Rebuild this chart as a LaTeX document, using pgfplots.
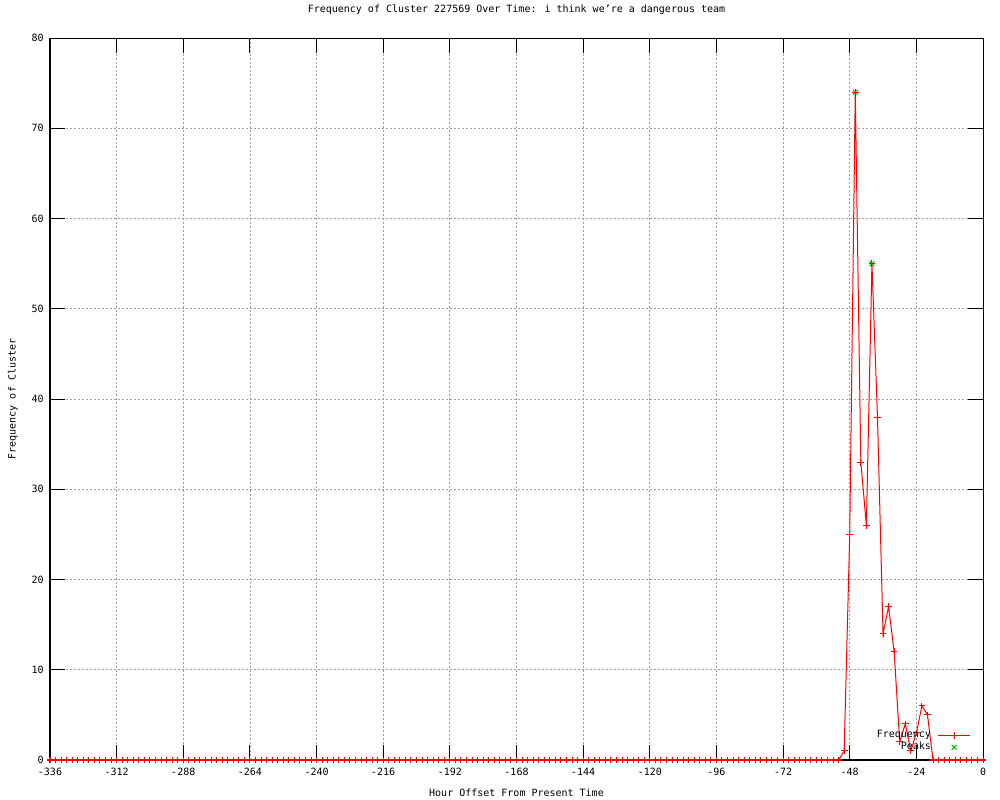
\documentclass[border=0pt]{standalone}
\usepackage{pgfplots}
\pgfplotsset{compat=1.18}
\usepackage{fontspec}
\setmainfont{DejaVu Sans Mono}
\definecolor{gpgreen}{RGB}{0,192,0}
\definecolor{gpgrid}{RGB}{160,160,160}
\begin{document}
\begin{tikzpicture}
\begin{axis}[
  at={(0,0)}, anchor=south west,
  scale only axis, width=699.75pt, height=541.5pt,
  xmin=-336, xmax=0, ymin=0, ymax=80,
  font=\fontsize{7.5}{9}\selectfont,
  axis line style={black, line width=0.75pt},
  every tick/.style={black, line width=0.75pt},
  tick align=inside, major tick length=11.25pt,
  xtick={-336,-312,-288,-264,-240,-216,-192,-168,-144,-120,-96,-72,-48,-24,0},
  xticklabels={-336,-312,-288,-264,-240,-216,-192,-168,-144,-120,-96,-72,-48,-24,0},
  ytick={0,10,20,30,40,50,60,70,80},
  yticklabels={0,10,20,30,40,50,60,70,80},
  xticklabel style={inner sep=0pt, yshift=-6pt},
  yticklabel style={inner sep=0pt, xshift=-4.5pt},
  grid=major,
  major grid style={gpgrid, line width=0.6pt, dash pattern=on 1.5pt off 1.5pt},
  title={Frequency of Cluster 227569 Over Time: i think we’re a dangerous team},
  title style={at={(axis description cs:0.5,1.0277)}, anchor=center, inner sep=0pt},
  xlabel={Hour Offset From Present Time},
  xlabel style={at={(axis description cs:0.5,-0.0457)}, anchor=center, inner sep=0pt},
  ylabel={Frequency of Cluster},
  ylabel style={at={(axis description cs:-0.0397,0.5)}, anchor=center, inner sep=0pt},
  clip=false,
  legend cell align=right,
  legend plot pos=right,
  legend style={draw=none, fill=none, at={(axis description cs:0.987,0.009)}, anchor=south east,
    inner sep=0pt, row sep=0pt, column sep=5pt,
    nodes={inner sep=0pt, text height=6.5pt, text depth=2.5pt}},
  legend image code/.code={\draw[mark repeat=2,mark phase=2] plot coordinates {(0pt,0pt) (12pt,0pt) (24pt,0pt)};},
]
\addplot[red, line width=0.75pt, mark=+, mark size=2.5pt, mark options={line width=0.75pt}] coordinates {
(-336,0) (-334,0) (-332,0) (-330,0) (-328,0) (-326,0) (-324,0) (-322,0) (-320,0) (-318,0)
(-316,0) (-314,0) (-312,0) (-310,0) (-308,0) (-306,0) (-304,0) (-302,0) (-300,0) (-298,0)
(-296,0) (-294,0) (-292,0) (-290,0) (-288,0) (-286,0) (-284,0) (-282,0) (-280,0) (-278,0)
(-276,0) (-274,0) (-272,0) (-270,0) (-268,0) (-266,0) (-264,0) (-262,0) (-260,0) (-258,0)
(-256,0) (-254,0) (-252,0) (-250,0) (-248,0) (-246,0) (-244,0) (-242,0) (-240,0) (-238,0)
(-236,0) (-234,0) (-232,0) (-230,0) (-228,0) (-226,0) (-224,0) (-222,0) (-220,0) (-218,0)
(-216,0) (-214,0) (-212,0) (-210,0) (-208,0) (-206,0) (-204,0) (-202,0) (-200,0) (-198,0)
(-196,0) (-194,0) (-192,0) (-190,0) (-188,0) (-186,0) (-184,0) (-182,0) (-180,0) (-178,0)
(-176,0) (-174,0) (-172,0) (-170,0) (-168,0) (-166,0) (-164,0) (-162,0) (-160,0) (-158,0)
(-156,0) (-154,0) (-152,0) (-150,0) (-148,0) (-146,0) (-144,0) (-142,0) (-140,0) (-138,0)
(-136,0) (-134,0) (-132,0) (-130,0) (-128,0) (-126,0) (-124,0) (-122,0) (-120,0) (-118,0)
(-116,0) (-114,0) (-112,0) (-110,0) (-108,0) (-106,0) (-104,0) (-102,0) (-100,0) (-98,0)
(-96,0) (-94,0) (-92,0) (-90,0) (-88,0) (-86,0) (-84,0) (-82,0) (-80,0) (-78,0)
(-76,0) (-74,0) (-72,0) (-70,0) (-68,0) (-66,0) (-64,0) (-62,0) (-60,0) (-58,0)
(-56,0) (-54,0) (-52,0) (-50,1) (-48,25) (-46,74) (-44,33) (-42,26) (-40,55) (-38,38)
(-36,14) (-34,17) (-32,12) (-30,2) (-28,4) (-26,1) (-24,3) (-22,6) (-20,5) (-18,0)
(-16,0) (-14,0) (-12,0) (-10,0) (-8,0) (-6,0) (-4,0) (-2,0) (0,0)
};
\addlegendentry{Frequency}
\addplot[gpgreen, only marks, mark=x, mark size=2.5pt, mark options={line width=0.75pt}] coordinates {
(-46,74) (-40,55)
};
\addlegendentry{Peaks}
\addplot[red, only marks, mark=+, mark size=2.5pt, mark options={line width=0.75pt}, forget plot] coordinates {
(-46,74) (-40,55)
};
\end{axis}
\pgfresetboundingbox
\path (-37.5pt,-30pt) rectangle (712.5pt,570pt);
\end{tikzpicture}
\end{document}
